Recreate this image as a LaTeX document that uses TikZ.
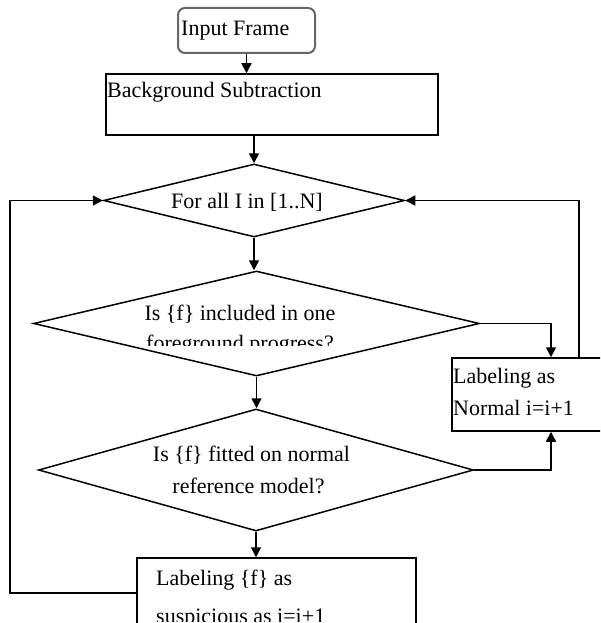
\documentclass[tikz,border=0pt]{standalone}
\usepackage{fontspec}
\setmainfont{Liberation Serif}
\usetikzlibrary{shapes.geometric,arrows.meta}
\begin{document}
\begin{tikzpicture}[x=1pt,y=-1pt,
  font=\fontsize{22}{31}\selectfont,
  box/.style={draw, line width=1.5pt, inner sep=0pt, rectangle},
  dia/.style={draw, diamond, line width=1.5pt, inner sep=0pt},
  arr/.style={line width=1.5pt, -{Triangle[length=10pt,width=10pt]}},
  txt/.style={inner sep=0pt, anchor=base west},
  ctxt/.style={inner sep=0pt, anchor=base}]
\useasboundingbox (0,0) rectangle (600,623);
\clip (0,0) rectangle (600,623);
% shapes
\node[box, draw=black!60, line width=2pt, rounded corners=7pt, minimum width=137pt, minimum height=45pt] (input) at (246.5,30.5) {};
\node[box, minimum width=332pt, minimum height=61pt] (bg) at (272,104.5) {};
\node[dia, minimum width=301pt, minimum height=73pt] (d1) at (254,200.5) {};
\node[dia, minimum width=446pt, minimum height=105pt] (d2) at (256.5,323.5) {};
\node[dia, minimum width=435pt, minimum height=122pt] (d3) at (256,470) {};
\node[box, minimum width=178pt, minimum height=73pt] (normal) at (541,394.5) {};
\node[box, minimum width=279pt, minimum height=92pt] (susp) at (276.5,604) {};
% helper coordinates
\coordinate (nin) at (551,0);
\coordinate (nout) at (579,0);
\coordinate (lx) at (10,0);
\coordinate (ly) at (0,593);
% texts
\node[txt] (tin) at (181,36) {Input Frame};
\node[txt] (tbg) at (107,98) {Background Subtraction};
\node[ctxt] (td1) at (247,208) {For all I in [1..N]};
\node[ctxt] (td2a) at (240,320) {Is \{f\} included in one};
\begin{scope}
  \clip (0,0) rectangle (600,345);
  \node[ctxt] (td2b) at (240,350) {foreground progress?};
\end{scope}
\node[ctxt] (td3a) at (251.5,461.7) {Is \{f\} fitted on normal};
\node[ctxt] (td3b) at (248.5,493) {reference model?};
\node[txt] (tna) at (453,383) {Labeling as};
\node[txt] (tnb) at (453,415) {Normal i=i+1};
\node[txt] (tsa) at (156,585.5) {Labeling \{f\} as};
\begin{scope}
  \clip (0,0) rectangle (600,621);
  \node[txt] (tsb) at (156,623) {suspicious as i=i+1};
\end{scope}
% connectors
\draw[arr] (input.south) -- (input.south |- bg.north);
\draw[arr] (bg.south -| d1.north) -- (d1.north);
\draw[arr] (d1.south) -- (d1.south |- d2.north);
\draw[arr] (d2.south) -- (d2.south |- d3.north);
\draw[arr] (d3.south) -- (d3.south |- susp.north);
\draw[arr] (d2.east) -| (nin |- normal.north);
\draw[arr] (d3.east) -| (nin |- normal.south);
\draw[arr] (nout |- normal.north) |- (d1.east);
\draw[arr] (susp.west |- ly) -| (lx |- d1.west) -- (d1.west);
\end{tikzpicture}
\end{document}
